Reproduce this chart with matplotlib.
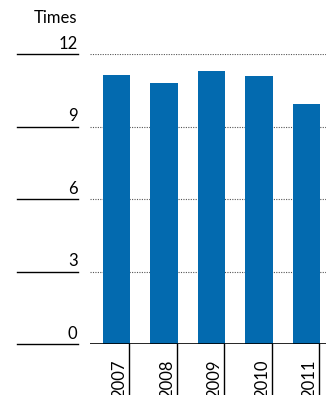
import matplotlib
matplotlib.use("Agg")
import matplotlib.pyplot as plt
import matplotlib.transforms as mtransforms

plt.rcParams["font.family"] = ["Lato", "DejaVu Sans"]

years = ["2007", "2008", "2009", "2010", "2011"]
times = [11.13, 10.80, 11.30, 11.09, 9.93]
y_ticks = [0, 3, 6, 9, 12]

BAR_COLOR = "#036AAF"

fig = plt.figure(figsize=(3.26, 3.95), dpi=100)
# axes box in pixel terms: x 90..326, y 54..344 (from top)
ax = fig.add_axes([90 / 326, 51 / 395, 236 / 326, 290 / 395])

positions = list(range(len(years)))
ax.bar(positions, times, width=0.57, color=BAR_COLOR, zorder=3)

ax.set_xlim(-0.558, 4.41)
ax.set_ylim(0, 12)

# dotted gridlines and solid baseline
for v in y_ticks:
    if v == 0:
        ax.axhline(0, color="black", lw=1.2, zorder=4)
    else:
        ax.axhline(v, color="#555555", lw=0.8, ls=(0, (1, 1.2)), zorder=1)

# short rules with value labels to the left of the plot
trans = mtransforms.blended_transform_factory(ax.transAxes, ax.transData)
for v in y_ticks:
    ax.plot([-0.309, -0.051], [v, v], transform=trans, color="black",
            lw=1.0, clip_on=False)
    ax.text(-0.053, v + 0.1, str(v), transform=trans, ha="right",
            va="bottom", fontsize=12, color="black")

ax.text(-0.053, 13.15, "Times", transform=trans, ha="right", va="bottom",
        fontsize=12, color="black", clip_on=False)

# separators and rotated year labels under the axis
trans_x = mtransforms.blended_transform_factory(ax.transData, ax.transAxes)
for i, year in enumerate(years):
    sep = i + 0.265
    ax.plot([sep, sep], [0, -0.25], transform=trans_x, color="black",
            lw=1.0, clip_on=False)
    ax.text(sep - 0.03, -0.055, year, transform=trans_x, rotation=90,
            ha="right", va="top", fontsize=12, color="black")

ax.set_axis_off()

fig.savefig("out.png", dpi=100)
